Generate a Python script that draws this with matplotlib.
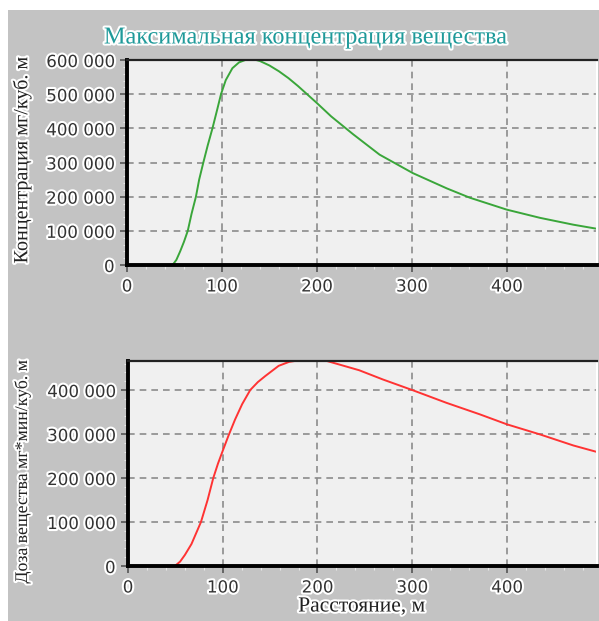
import matplotlib
matplotlib.use("Agg")
import matplotlib.pyplot as plt
import matplotlib.patheffects as pe
from matplotlib.patches import Rectangle
from matplotlib.ticker import FuncFormatter, MultipleLocator

# --- данные
dist_conc = [48, 52, 56, 60, 64, 68, 72.6, 76, 80.4, 85, 90, 95, 99, 104, 111, 118, 125, 132,
             140, 150, 160, 170, 180, 190, 200, 215, 238, 266, 301, 337, 361, 400, 435, 470, 497]
conc = [0, 15000, 40000, 68000, 100000, 150000, 200000, 250000, 300000, 350000, 400000,
        455000, 500000, 541000, 576000, 593000, 600500, 603000, 597000, 584000, 567000,
        547000, 524000, 499000, 474000, 435000, 383000, 323000, 269000, 224000, 197000,
        162000, 138000, 118000, 105000]

dist_dose = [49.5, 55, 60, 67, 72, 77, 84, 90, 95, 100, 106, 113, 120.5, 129, 137, 145,
             159, 170, 182, 195, 210, 223, 244, 269, 300, 336, 371, 400, 435, 470, 497]
dose = [0, 10000, 25000, 50000, 75000, 100000, 150000, 200000, 233000, 262000, 296000,
        333000, 368000, 400000, 418000, 432000, 455000, 464000, 468000, 469000, 466000,
        458000, 445000, 424000, 400000, 371000, 345000, 322000, 299000, 274000, 258000]

TITLE = "Максимальная концентрация вещества"
YLAB_TOP = "Концентрация мг/куб. м"
YLAB_BOT = "Доза вещества мг*мин/куб. м"
XLAB = "Расстояние, м"

W, H = 599, 621
PANEL = "#c3c3c3"
PLOT_BG = "#f0f0f0"
halo = [pe.withStroke(linewidth=3, foreground="white")]


def fmt(v, _):
    return f"{v:,.0f}".replace(",", " ")


def px_axes(fig, left, top, right, bottom):
    return fig.add_axes([left / W, 1 - bottom / H, (right - left) / W, (bottom - top) / H])


def style(ax, ymax, ystep):
    ax.set_facecolor(PLOT_BG)
    ax.set_xlim(0, 495)
    ax.set_ylim(0, ymax)
    ax.xaxis.set_major_locator(MultipleLocator(100))
    ax.xaxis.set_minor_locator(MultipleLocator(20))
    ax.yaxis.set_major_locator(MultipleLocator(ystep))
    ax.yaxis.set_minor_locator(MultipleLocator(ystep / 5))
    ax.yaxis.set_major_formatter(FuncFormatter(fmt))
    ax.grid(True, which="major", color="#8c8c8c", linestyle=(0, (4, 3)), linewidth=1.2)
    ax.set_axisbelow(True)
    for s in ("left", "bottom"):
        ax.spines[s].set_linewidth(2.8)
        ax.spines[s].set_color("black")
    ax.spines["top"].set_linewidth(1.6)
    ax.spines["top"].set_color("#222222")
    ax.spines["right"].set_color("white")
    ax.spines["right"].set_linewidth(1.5)
    ax.tick_params(which="major", length=5, width=1.2, color="#555555", pad=4,
                   labelsize=12, labelcolor="#333333")
    ax.tick_params(which="minor", length=3, width=0.8, color="#e8e8e8")
    for lab in ax.get_xticklabels() + ax.get_yticklabels():
        lab.set_fontfamily("DejaVu Sans")
        lab.set_path_effects(halo)


fig = plt.figure(figsize=(W / 100, H / 100), dpi=100, facecolor="white")
fig.patches.append(Rectangle((8 / W, 0), 1, 1 - 10 / H, transform=fig.transFigure,
                             facecolor=PANEL, edgecolor="none", zorder=-10))

ax1 = px_axes(fig, 127, 60, 597, 265)
ax1.plot(dist_conc, conc, color="#3aa63a", linewidth=1.4)
style(ax1, 600000, 100000)

ax2 = px_axes(fig, 128, 361, 597, 566)
ax2.plot(dist_dose, dose, color="#ff3333", linewidth=1.4)
style(ax2, 466000, 100000)

fig.text(305 / W, 1 - 38 / H, TITLE, ha="center", va="center", fontsize=17.5,
         family="Liberation Serif", color="#1f9a9a", path_effects=halo)
fig.text(22 / W, 1 - 160 / H, YLAB_TOP, ha="center", va="center", rotation=90,
         fontsize=14.5, family="Liberation Serif", color="#222222", path_effects=halo)
fig.text(22 / W, 1 - 472 / H, YLAB_BOT, ha="center", va="center", rotation=90,
         fontsize=12.8, family="Liberation Serif", color="#222222", path_effects=halo)
fig.text(362 / W, 1 - 607 / H, XLAB, ha="center", va="center", fontsize=15.5,
         family="Liberation Serif", color="#222222", path_effects=halo)

fig.savefig("out.png", dpi=100, facecolor=fig.get_facecolor())
